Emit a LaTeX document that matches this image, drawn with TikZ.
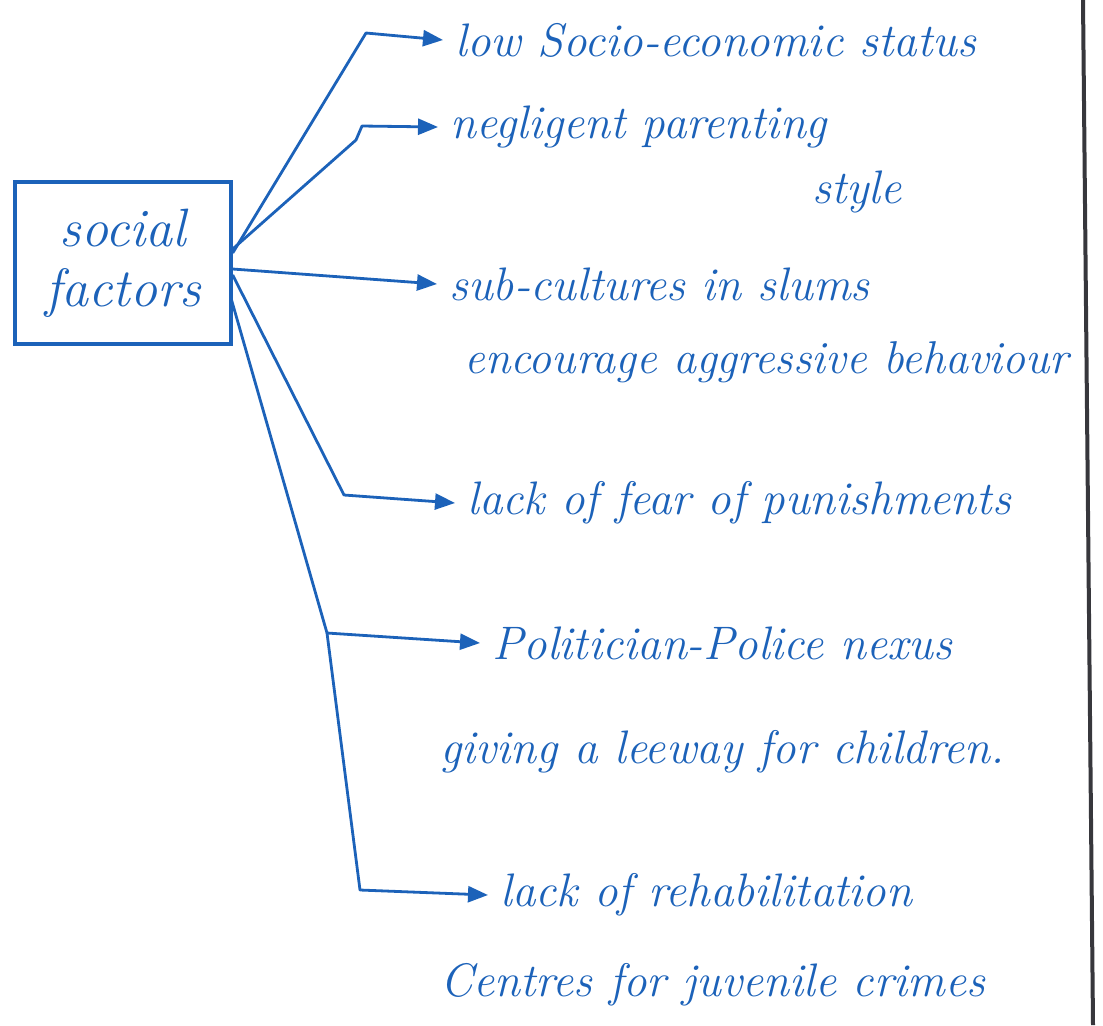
\documentclass[tikz,border=0pt]{standalone}
\usepackage{tikz}
\usepackage{xcolor}
\usetikzlibrary{arrows.meta,positioning,calc}
\definecolor{penBlue}{RGB}{28,98,185}
\definecolor{edgeGray}{RGB}{55,55,60}
\tikzset{
  factor/.style={draw=penBlue, line width=1.7pt, minimum width=108pt, minimum height=81pt, align=center, text=penBlue, font=\fontsize{27}{30}\selectfont\itshape},
  item/.style={anchor=west, inner xsep=6pt, inner ysep=2pt, text=penBlue, font=\fontsize{23.5}{28}\selectfont\itshape},
  arrow/.style={-{Triangle[length=10pt,width=8pt]}, line width=1.4pt, draw=penBlue, line join=round},
  edge/.style={draw=edgeGray, line width=2pt}
}

\begin{document}
\begin{tikzpicture}[x=0.5pt,y=-0.5pt]
  \useasboundingbox (0,0) rectangle (1103,1025);

  \node[factor] (social) at (123,263) {social\\factors};

  \node[item] (low) at (443,40) {low Socio-economic status};
  \node[item] (parent) at (438,127) {negligent parenting};
  \node[item] (style) at (800,192) {style};
  \node[item] (slums) at (437,284) {sub-cultures in slums};
  \node[item, font=\fontsize{23}{28}\selectfont\itshape] (aggr) at (452,362) {encourage aggressive behaviour};
  \node[item] (fear) at (455,503) {lack of fear of punishments};
  \node[item] (nexus) at (480,643) {Politician-Police nexus};
  \node[item] (leeway) at (428,752) {giving a leeway for children.};
  \node[item] (rehab) at (488,895) {lack of rehabilitation};
  \node[item] (centres) at (428,985) {Centres for juvenile crimes};

  \coordinate (split) at (327,633);

  \draw[arrow] ([yshift=5pt]social.east) -- (366,33) -- (low.west);
  \draw[arrow] ([yshift=7pt]social.east) -- (356,140) -- (362,126) -- (parent.west);
  \draw[arrow] ([yshift=-3pt]social.east) -- (slums.west);
  \draw[arrow] ([yshift=-6pt]social.east) -- (344,495) -- (fear.west);
  \draw[arrow] ([xshift=-1pt,yshift=-17pt]social.east) -- (split) -- (nexus.west);
  \draw[arrow] (split) -- (360,890) -- (rehab.west);

  % margin line of the sheet
  \draw[edge] (1083,0) -- (1093,1025);
\end{tikzpicture}
\end{document}
